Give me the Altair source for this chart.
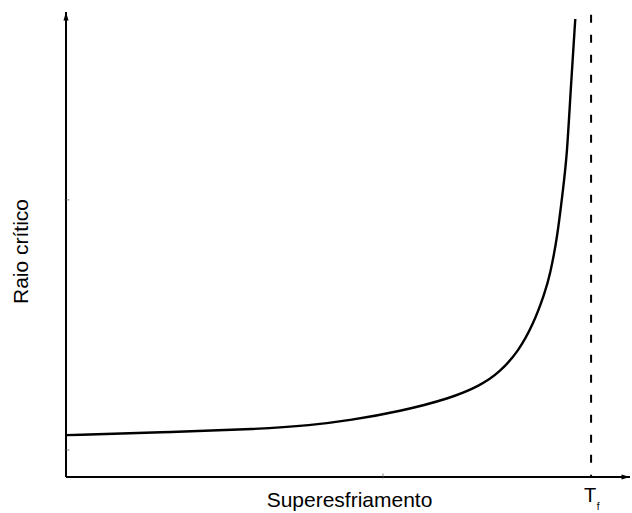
import altair as alt
import pandas as pd

# Critical radius versus undercooling (arbitrary units, 0-100 on both axes)
undercooling = [0.0, 16.7, 34.4, 43.3, 50.4, 59.2, 68.1, 73.4, 77.0, 80.3,
                82.8, 84.9, 85.8, 87.1, 88.1, 88.8, 89.5, 90.3]
critical_radius = [9.0, 9.6, 10.3, 11.1, 12.2, 14.1, 16.9, 19.6, 22.6, 27.2,
                   32.7, 39.6, 43.4, 51.4, 61.7, 68.6, 83.7, 98.5]

# Melting temperature marker
t_melt = 93.1
x_range = [0, 100]
y_range = [0, 100]

# Faint minor tick positions on the two axes
y_minor_ticks = [59.6, 5.8]
x_minor_ticks = [56.2]

FONT = "Liberation Sans"

curve_df = pd.DataFrame({"x": undercooling, "y": critical_radius})
xs = alt.Scale(domain=x_range, nice=False, zero=False)
ys = alt.Scale(domain=y_range, nice=False, zero=False)

x_axis = alt.Axis(domain=False, ticks=False, labels=False, grid=False,
                  title="Superesfriamento", titleFont=FONT, titleFontSize=21,
                  titleFontWeight="normal", titleColor="black",
                  titleX=283, titleY=23, titleBaseline="middle",
                  titleAlign="center")
y_axis = alt.Axis(domain=False, ticks=False, labels=False, grid=False,
                  title="Raio crítico", titleFont=FONT, titleFontSize=21,
                  titleFontWeight="normal", titleColor="black",
                  titleX=-45, titleY=239, titleAngle=270,
                  titleBaseline="middle", titleAlign="center")

curve = alt.Chart(curve_df).mark_line(
    color="black", strokeWidth=2.4, interpolate="basis"
).encode(
    x=alt.X("x:Q", scale=xs, axis=x_axis),
    y=alt.Y("y:Q", scale=ys, axis=y_axis),
)

# Axis lines with arrow heads
axes_df = pd.DataFrame({
    "x": [x_range[0], x_range[0]],
    "x2": [x_range[1], x_range[0]],
    "y": [y_range[0], y_range[0]],
    "y2": [y_range[0], y_range[1]],
})
axis_lines = alt.Chart(axes_df).mark_rule(color="black", strokeWidth=2).encode(
    x=alt.X("x:Q", scale=xs), x2="x2:Q",
    y=alt.Y("y:Q", scale=ys), y2="y2:Q",
)

up_arrow = alt.Chart(pd.DataFrame({"x": [x_range[0]], "y": [y_range[1]]})).mark_point(
    shape="M0,0L0.5,1.7L-0.5,1.7Z", size=100, filled=True, color="black", opacity=1
).encode(x=alt.X("x:Q", scale=xs), y=alt.Y("y:Q", scale=ys))

right_arrow = alt.Chart(pd.DataFrame({"x": [x_range[1]], "y": [y_range[0]]})).mark_point(
    shape="M0,0L-1.7,-0.5L-1.7,0.5Z", size=100, filled=True, color="black", opacity=1
).encode(x=alt.X("x:Q", scale=xs), y=alt.Y("y:Q", scale=ys))

# Minor tick stubs on the inside of the axes
ytick_df = pd.DataFrame({"y": y_minor_ticks})
ytick_marks = alt.Chart(ytick_df).mark_tick(
    color="#555555", orient="horizontal", size=5, thickness=1
).encode(y=alt.Y("y:Q", scale=ys), x=alt.value(1))
xtick_df = pd.DataFrame({"x": x_minor_ticks})
xtick_marks = alt.Chart(xtick_df).mark_tick(
    color="#555555", orient="vertical", size=5, thickness=1
).encode(x=alt.X("x:Q", scale=xs), y=alt.value(464))

# Dashed vertical line at the melting temperature
tf_df = pd.DataFrame({"x": [t_melt], "y": [99.4], "y2": [y_range[0]]})
tf_line = alt.Chart(tf_df).mark_rule(
    color="black", strokeWidth=2, strokeDash=[8, 12]
).encode(x=alt.X("x:Q", scale=xs), y=alt.Y("y:Q", scale=ys), y2="y2:Q")

label_df = pd.DataFrame({"x": [t_melt], "y": [y_range[0]]})
tf_T = alt.Chart(label_df).mark_text(
    text="T", font=FONT, fontSize=20, color="black",
    align="center", baseline="middle", dy=19, dx=-1
).encode(x=alt.X("x:Q", scale=xs), y=alt.Y("y:Q", scale=ys))
tf_f = alt.Chart(label_df).mark_text(
    text="f", font=FONT, fontSize=10, color="black",
    align="center", baseline="middle", dy=30, dx=7
).encode(x=alt.X("x:Q", scale=xs), y=alt.Y("y:Q", scale=ys))

chart = alt.layer(
    curve, axis_lines, up_arrow, right_arrow, ytick_marks, xtick_marks,
    tf_line, tf_T, tf_f
).properties(
    width=564, height=465,
    autosize=alt.AutoSizeParams(type="none"),
    padding={"left": 66, "top": 12, "right": 2, "bottom": 36},
    background="white",
).configure_view(stroke=None)

chart.save("out.html", embed_options={"renderer": "svg", "actions": False})
